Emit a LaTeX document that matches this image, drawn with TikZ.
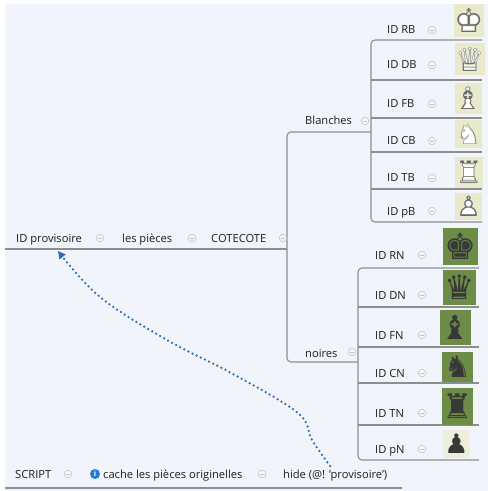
\documentclass[tikz,border=0pt]{standalone}
\usepackage{fontspec}
\setmainfont{Open Sans}
\newfontfamily\chessfont{DejaVu Sans}
\usetikzlibrary{arrows.meta}

\definecolor{bgc}{HTML}{F1F4FA}
\definecolor{linec}{HTML}{8E8E8E}
\definecolor{txtc}{HTML}{1E1E1E}
\definecolor{knob}{HTML}{C2C2C2}
\definecolor{lightsq}{HTML}{E8EACB}
\definecolor{palesq}{HTML}{EEEEDC}
\definecolor{darksq}{HTML}{6C8C48}
\definecolor{linkc}{HTML}{2B6CB8}
\definecolor{infoc}{HTML}{1E7BD8}
\definecolor{piecedark}{HTML}{383838}
\definecolor{pieceline}{HTML}{6A6A6A}

% white piece: solid glyph in white under the outlined glyph
\newcommand\wpiece[2]{\makebox[0pt]{\color{white}#2}\makebox[0pt]{\color{pieceline}#1}}
\newcommand\bpiece[1]{\makebox[0pt]{\color{piecedark}#1}}

\tikzset{
  topic/.style={text=txtc, font=\fontsize{11.2}{13}\selectfont, inner sep=0pt, anchor=base west},
  branch/.style={draw=linec, line width=1.1bp},
  collapse/.pic={
    \fill[white!40!bgc] (0,0) circle (3.8bp);
    \draw[knob, line width=0.6bp] (0,0) circle (3.8bp);
    \draw[knob, line width=0.7bp] (-1.9,0) -- (1.9,0);
  },
  piecebox/.style={inner sep=0pt, font=\chessfont\fontsize{#1}{#1}\selectfont},
  piecebox/.default=33,
  wsq/.style={piecebox=#1, fill=lightsq},
  wsq/.default=33,
  bsq/.style={piecebox=#1, fill=darksq},
  bsq/.default=36,
  link/.style={draw=linkc, line width=2.5bp, line cap=round,
    dash pattern=on 0bp off 4.6bp,
    -{Triangle[length=7.5bp,width=7.5bp]}},
}

\begin{document}
\begin{tikzpicture}[x=1bp,y=-1bp]
  % canvas
  \fill[white] (0,0) rectangle (488,491);
  \fill[bgc] (5,4) rectangle (488,491);
  \useasboundingbox (0,0) rectangle (488,491);

  % ---------- tree lines ----------
  \coordinate (rootL) at (5,249);
  \coordinate (fork) at (287,249);
  \coordinate (bfork) at (371,132);
  \coordinate (nfork) at (358,362);
  \draw[branch] (rootL) -- (fork);
  \draw[branch, rounded corners=4bp] (bfork) -- (fork |- bfork) -- (fork |- nfork) -- (nfork);
  % white pieces group
  \draw[branch, rounded corners=4bp] (482,40) -- (bfork |- 0,40) -- (bfork |- 0,222) -- (482,222);
  \foreach \y in {80,118,152,189} \draw[branch] (bfork |- 0,\y) -- (482,\y);
  % black pieces group
  \draw[branch, rounded corners=4bp] (479,268) -- (nfork |- 0,268) -- (nfork |- 0,460) -- (479,460);
  \foreach \y in {307,347,383,425} \draw[branch] (nfork |- 0,\y) -- (479,\y);
  % script line
  \draw[branch] (5,488) -- (402,488);

  % ---------- main row ----------
  \node[topic] (idp) at (16,242.5) {ID provisoire};
  \pic at (100,238) {collapse};
  \node[topic] (lesp) at (122,242.5) {les pièces};
  \pic at (192,238) {collapse};
  \node[topic] (cote) at (211,242.5) {COTECOTE};
  \pic at (283,238) {collapse};

  \node[topic] (blanches) at (305,125) {Blanches};
  \pic at (365,121) {collapse};
  \node[topic] (noires) at (305,357) {noires};
  \pic at (352,352) {collapse};

  % ---------- white pieces ----------
  \node[topic] (idRB) at (387,34) {ID RB};  \pic at (432,30) {collapse};
  \node[topic] (idDB) at (387,69) {ID DB};  \pic at (432,65) {collapse};
  \node[topic] (idFB) at (387,108) {ID FB}; \pic at (432,104) {collapse};
  \node[topic] (idCB) at (387,145) {ID CB}; \pic at (432,141) {collapse};
  \node[topic] (idTB) at (387,182) {ID TB}; \pic at (432,178) {collapse};
  \node[topic] (idpB) at (387,215) {ID pB}; \pic at (432,211) {collapse};

  \node[wsq, minimum width=30bp, minimum height=33bp] (imgRB) at (469,20.5) {\wpiece{♔}{♚}};
  \node[wsq, minimum width=30bp, minimum height=32bp] (imgDB) at (470,59) {\wpiece{♕}{♛}};
  \node[wsq=31, minimum width=27bp, minimum height=31bp] (imgFB) at (468.5,98.5) {\wpiece{♗}{♝}};
  \node[wsq=28, minimum width=27bp, minimum height=28bp] (imgCB) at (468.5,134) {\wpiece{♘}{♞}};
  \node[wsq=31, minimum width=28bp, minimum height=31bp] (imgTB) at (469,172.5) {\wpiece{♖}{♜}};
  \node[wsq=28, minimum width=27bp, minimum height=27bp] (imgpB) at (468.5,206.5) {\wpiece{♙}{♟}};

  % ---------- black pieces ----------
  \node[topic] (idRN) at (375,259) {ID RN}; \pic at (422,255) {collapse};
  \node[topic] (idDN) at (375,299) {ID DN}; \pic at (422,295) {collapse};
  \node[topic] (idFN) at (375,339) {ID FN}; \pic at (422,335) {collapse};
  \node[topic] (idCN) at (375,377) {ID CN}; \pic at (422,373) {collapse};
  \node[topic] (idTN) at (375,417) {ID TN}; \pic at (422,413) {collapse};
  \node[topic] (idpN) at (375,453) {ID pN}; \pic at (422,449) {collapse};

  \node[bsq, minimum width=35bp, minimum height=37bp] (imgRN) at (460.5,246.5) {\bpiece{♚}};
  \node[bsq=34, minimum width=33bp, minimum height=35bp] (imgDN) at (459.5,287.5) {\bpiece{♛}};
  \node[bsq=33, minimum width=31bp, minimum height=35bp] (imgFN) at (455.5,327.5) {\bpiece{♝}};
  \node[bsq=30, minimum width=31bp, minimum height=30bp] (imgCN) at (457.5,367) {\bpiece{♞}};
  \node[bsq=34, minimum width=31bp, minimum height=37bp] (imgTN) at (457.5,406.5) {\bpiece{♜}};
  \node[piecebox=27, fill=palesq, minimum width=27bp, minimum height=28bp] (imgpN) at (456.5,444) {\bpiece{♟}};

  % ---------- script row ----------
  \node[topic] (script) at (15,478) {SCRIPT};
  \pic at (68,474) {collapse};
  \node[circle, fill=infoc, inner sep=0pt, minimum size=10bp, text=white,
        font=\bfseries\fontsize{7.5}{8}\selectfont] (info) at (95,474) {i};
  \node[topic] (cache) at (103,478) {cache les pièces originelles};
  \pic at (262,474) {collapse};
  \node[topic] (hide) at (283,478) {hide (@! 'provisoire')};

  % ---------- link from the script to the placeholder ----------
  \coordinate (linkS) at (330,466);
  \coordinate (linkE) at (58,251);
  \draw[link] plot[smooth, tension=0.6] coordinates
    {(linkS) (312,440) (298,413) (233,374) (167,340) (100,297) (linkE)};
\end{tikzpicture}
\end{document}
